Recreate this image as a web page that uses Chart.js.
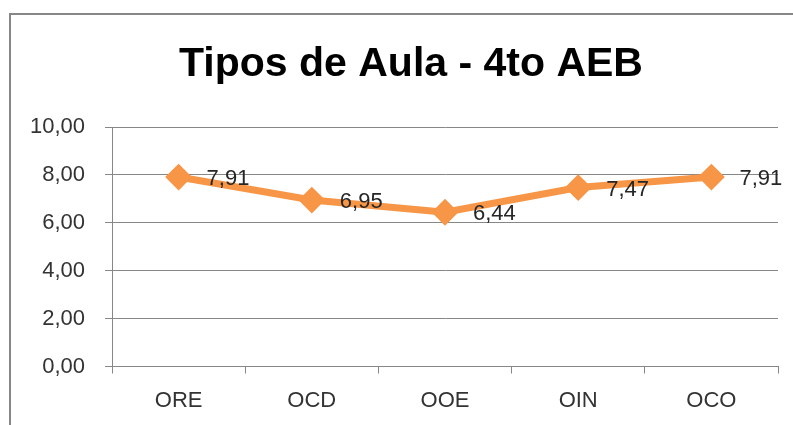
<!DOCTYPE html>
<html>
<head>
<meta charset="utf-8">
<script src="https://cdn.jsdelivr.net/npm/chart.js@4"></script>
<style>
  html, body { margin: 0; padding: 0; background: #fff; overflow: hidden; width: 793px; height: 425px; }
  #frame { position: absolute; left: 9px; top: 13px; width: 800px; height: 420px;
           border-left: 2px solid #878787; border-top: 2px solid #878787; }
  #chart { display: block; }
</style>
</head>
<body>
<div id="frame"><canvas id="chart" width="800" height="410"></canvas></div>
<script>
// datos del grafico
const categorias = ['ORE', 'OCD', 'OOE', 'OIN', 'OCO'];
const promedios = [7.91, 6.95, 6.44, 7.47, 7.91];
const titulo = 'Tipos de Aula - 4to AEB';

const fmt = v => Number(v).toFixed(2).replace('.', ',');

// titulo centrado en el marco completo (no en el area con padding)
const tituloPlugin = {
    id: 'tituloCentrado',
    afterDraw(chart) {
        const ctx = chart.ctx;
        ctx.save();
        ctx.font = 'bold 41px "Liberation Sans", Arial, sans-serif';
        ctx.fillStyle = '#000';
        ctx.textAlign = 'center';
        ctx.textBaseline = 'middle';
        ctx.fillText(titulo, chart.width / 2, 50);
        ctx.restore();
    }
};

// etiquetas a la derecha de cada punto
const etiquetasPlugin = {
    id: 'etiquetas',
    afterDatasetsDraw(chart) {
        const ctx = chart.ctx;
        const meta = chart.getDatasetMeta(0);
        ctx.save();
        ctx.font = '22px "Liberation Sans", Arial, sans-serif';
        ctx.fillStyle = '#262626';
        ctx.textAlign = 'left';
        ctx.textBaseline = 'middle';
        meta.data.forEach((pt, i) => {
            ctx.fillText(fmt(promedios[i]), pt.x + 28, pt.y + 2);
        });
        ctx.restore();
    }
};

new Chart(document.getElementById('chart'), {
    type: 'line',
    data: {
        labels: categorias,
        datasets: [{
            data: promedios,
            borderColor: '#F79646',
            borderWidth: 7,
            pointStyle: 'rectRot',
            pointRadius: 12,
            pointBackgroundColor: '#F79646',
            pointBorderColor: '#F79646',
            pointBorderWidth: 2,
            tension: 0
        }]
    },
    options: {
        responsive: false,
        animation: false,
        layout: { padding: { left: 0, right: 33, top: 112, bottom: 11 } },
        plugins: {
            legend: { display: false },
            tooltip: { enabled: false },
            title: { display: false }
        },
        scales: {
            x: {
                offset: true,
                afterFit(scale) { scale.height = 47.5; },
                grid: { offset: true, drawOnChartArea: false, drawTicks: true, tickLength: 7, color: '#878787' },
                border: { color: '#878787', width: 1 },
                ticks: { color: '#333', padding: 14, font: { family: '"Liberation Sans", Arial, sans-serif', size: 22 } }
            },
            y: {
                min: 0,
                max: 10,
                afterFit(scale) { scale.width = 101; },
                grid: { color: '#878787', tickLength: 7 },
                border: { color: '#878787', width: 1 },
                ticks: {
                    stepSize: 2,
                    color: '#333',
                    padding: 20,
                    font: { family: '"Liberation Sans", Arial, sans-serif', size: 22 },
                    callback: v => fmt(v)
                }
            }
        }
    },
    plugins: [etiquetasPlugin, tituloPlugin]
});
</script>
</body>
</html>
